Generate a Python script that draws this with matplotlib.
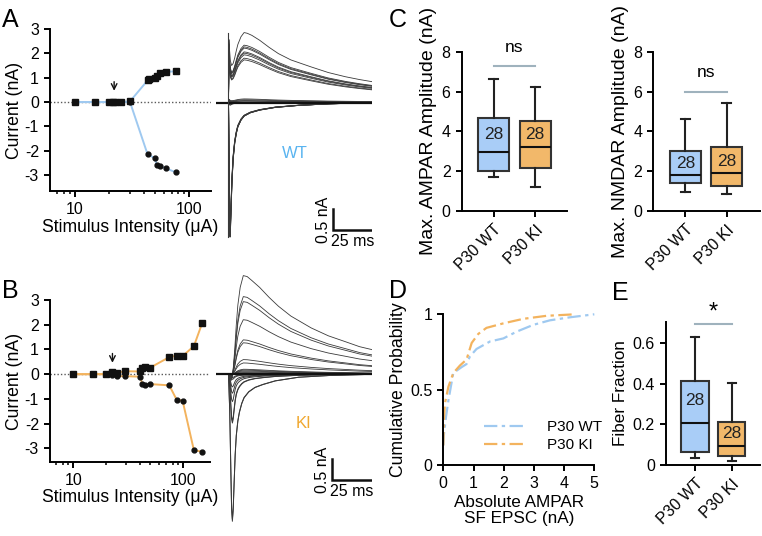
import numpy as np
import matplotlib.pyplot as plt
from matplotlib.ticker import NullFormatter, LogLocator
from matplotlib.lines import Line2D

plt.rcParams['font.family'] = ['Liberation Sans', 'DejaVu Sans']
plt.rcParams['axes.linewidth'] = 1.4
plt.rcParams['xtick.major.width'] = 1.4
plt.rcParams['ytick.major.width'] = 1.4
plt.rcParams['xtick.minor.width'] = 1.1
plt.rcParams['xtick.major.size'] = 4.5
plt.rcParams['ytick.major.size'] = 4.5
plt.rcParams['xtick.minor.size'] = 2.5
plt.rcParams['xtick.labelsize'] = 11.5
plt.rcParams['ytick.labelsize'] = 11.5

W, H = 762, 536

WT_LINE = '#9fc9f0'
WT_FILL = '#a9cdf7'
KI_LINE = '#f3b35e'
KI_FILL = '#f2b86a'
SIG_COL = '#9fb2bd'
TRACE_COL = '#3a3a3a'

# ---- panel A: input/output curve, WT
a_x_up = [10, 15, 20, 21.6, 22.4, 25.3, 30.3, 43.2, 44.4, 50, 51.7, 55.4, 62.5, 76]
a_y_up = [0, 0, 0, 0, 0, 0, 0.03, 0.89, 0.96, 1.0, 1.07, 1.19, 1.23, 1.27]
a_x_dn = [10, 15, 20, 21.6, 22.4, 25.3, 30.3, 43.2, 50, 52, 55.4, 62.5, 76]
a_y_dn = [0, 0, 0, 0, 0, 0, 0, -2.15, -2.3, -2.6, -2.63, -2.72, -2.88]
a_arrow_x = 22

# ---- panel B: input/output curve, KI
b_x = [10, 15, 20, 22.3, 24.8, 29.7, 40.4, 42.4, 44.8, 49.8, 74.6, 87, 98.6, 125, 149]
b_y_up = [0, 0, 0, 0.07, 0.06, 0.12, 0.11, 0.27, 0.28, 0.26, 0.69, 0.75, 0.73, 1.14, 2.08]
b_y_dn = [0, 0, 0, -0.05, -0.08, -0.08, -0.1, -0.38, -0.43, -0.4, -0.45, -1.03, -1.07, -3.08, -3.13]
b_arrow_x = 22.7

# ---- example traces (normalised waveforms, time in ms after stim)
a_out_t = [0, 0.3, 0.7, 1.2, 2, 3, 4, 5, 6, 8, 10, 12, 15, 20, 26, 32, 40, 53, 64, 75, 84, 92]
a_out_s = [0, 0.9, 0.75, 0.6, 0.53, 0.56, 0.64, 0.74, 0.83, 0.94, 1.0, 0.99, 0.96, 0.89, 0.79,
           0.70, 0.61, 0.51, 0.43, 0.37, 0.33, 0.30]
a_in_t = [0, 0.4, 0.8, 1.0, 1.3, 1.7, 2.2, 3, 4, 5, 6, 8, 10, 14, 20, 30, 45, 65, 92]
a_in_s = [0, 0.5, 0.92, 1.0, 0.93, 0.78, 0.6, 0.42, 0.3, 0.23, 0.18, 0.13, 0.1, 0.075, 0.055,
          0.035, 0.02, 0.008, 0]
b_out_t = [0, 1, 2, 3, 4, 5, 6, 7.5, 9.5, 12, 15, 20, 26, 32, 40, 53, 64, 75, 84, 92]
b_out_s = [0, -0.05, -0.06, 0.05, 0.25, 0.5, 0.7, 0.88, 1.0, 0.99, 0.95, 0.88, 0.78, 0.69,
           0.59, 0.47, 0.39, 0.33, 0.28, 0.25]
b_in_t = [0, 0.8, 1.5, 2.0, 2.5, 3.0, 3.6, 4.3, 5, 6, 7, 8.5, 10, 13, 17, 22, 30, 45, 65, 92]
b_in_s = [0, 0.25, 0.65, 0.92, 1.0, 0.93, 0.75, 0.55, 0.42, 0.32, 0.26, 0.2, 0.16, 0.12, 0.09,
          0.07, 0.045, 0.02, 0.008, 0]

a_out_amp = [1.67, 1.37, 1.33, 1.30, 1.21, 1.18, 1.14, 1.06, 1.02, 0.09, 0.07, 0.05, 0.04, 0.02]
a_in_amp = [3.2, 3.18, 3.15, 3.1, 3.05, 3.0, 0.04, 0.06]
b_out_amp = [2.35, 1.85, 1.73, 1.3, 0.82, 0.75, 0.35, 0.27, 0.12, 0.1, 0.08, 0.06, 0.04]
b_in_amp = [3.5, 3.45, 1.16, 1.1, 0.65, 0.45, 0.3, 0.08, 0.12]

# ---- panel C boxes: whislo, q1, med, q3, whishi
groups = ['P30 WT', 'P30 KI']
ampa_box = [[1.72, 2.03, 2.98, 4.69, 6.62], [1.22, 2.15, 3.2, 4.54, 6.22]]
nmda_box = [[0.94, 1.39, 1.83, 3.02, 4.64], [0.84, 1.27, 1.89, 3.23, 5.41]]
fiber_box = [[0.033, 0.064, 0.209, 0.416, 0.633], [0.021, 0.044, 0.095, 0.214, 0.404]]
n_cells = [28, 28]

# ---- panel D cumulative distributions
cdf_wt_x = [0, 0.02, 0.09, 0.17, 0.33, 0.61, 0.77, 0.88, 1.1, 1.55, 1.99, 2.43, 2.98, 3.53, 4.19, 5.0]
cdf_wt_y = [0.13, 0.2, 0.32, 0.43, 0.61, 0.65, 0.67, 0.72, 0.77, 0.82, 0.84, 0.885, 0.93, 0.96, 0.98, 1.0]
cdf_ki_x = [0, 0.02, 0.055, 0.17, 0.33, 0.55, 0.77, 0.94, 1.16, 1.43, 1.99, 2.65, 3.42, 4.36]
cdf_ki_y = [0.13, 0.3, 0.41, 0.52, 0.61, 0.66, 0.7, 0.81, 0.87, 0.91, 0.94, 0.97, 0.99, 1.0]

fig = plt.figure(figsize=(W / 100, H / 100), dpi=100)


def px_axes(l, t, r, b):
    return fig.add_axes([l / W, 1 - b / H, (r - l) / W, (b - t) / H])


def io_panel(ax, x_up, y_up, x_dn, y_dn, col, xlim, ylim, arrow_x):
    ax.axhline(0, color='0.35', ls=(0, (1, 1.5)), lw=1.0, zorder=1)
    ax.plot(x_up, y_up, color=col, lw=1.4, zorder=2)
    ax.plot(x_dn, y_dn, color=col, lw=1.4, zorder=2)
    ax.plot(x_up, y_up, 's', color='#111', ms=3.8, zorder=3, clip_on=False)
    ax.plot(x_dn, y_dn, 'o', color='#111', ms=3.5, zorder=3, clip_on=False)
    ax.annotate('', xy=(arrow_x, 0.35), xytext=(arrow_x, 0.95),
                arrowprops=dict(arrowstyle='->', color='#111', lw=1.0))
    ax.set_xscale('log')
    ax.set_xlim(*xlim)
    ax.set_ylim(*ylim)
    ax.set_xticks([10, 100])
    ax.set_xticklabels(['10', '100'])
    ax.xaxis.set_minor_locator(LogLocator(base=10, subs=np.arange(2, 10)))
    ax.xaxis.set_minor_formatter(NullFormatter())
    ax.set_yticks([-3, -2, -1, 0, 1, 2, 3])
    ax.set_yticklabels(['-3', '-2', '-1', '0', '1', '2', '3'])
    for s in ['top', 'right']:
        ax.spines[s].set_visible(False)
    ax.set_ylabel('Current (nA)', fontsize=12.7, labelpad=1)
    ax.set_xlabel('Stimulus Intensity (μA)', fontsize=12.7, labelpad=1)


ax_a = px_axes(50, 29, 211, 191)
io_panel(ax_a, a_x_up, a_y_up, a_x_dn, a_y_dn, WT_LINE, (6.04, 155), (-3.65, 3), a_arrow_x)
ax_b = px_axes(50, 300, 210, 462)
io_panel(ax_b, b_x, b_y_up, b_x, b_y_dn, KI_LINE, (6.14, 175), (-3.55, 3), b_arrow_x)


def trace_panel(baseline_px, out_t, out_s, in_t, in_s, out_amp, in_amp, label, lcol,
                bar_x, bar_y, lab_pos, artifact):
    # 1 nA = 42 px, 100 ms = 156 px
    top = baseline_px - 2.4 * 42
    bot = baseline_px + 3.6 * 42
    ax = px_axes(216, top, 372, bot)
    ax.set_xlim(-8, 92)
    ax.set_ylim(-3.6, 2.4)
    ax.axis('off')
    for a in out_amp:
        ax.plot([-8] + out_t, [0] + [a * s for s in out_s], color=TRACE_COL, lw=0.6)
    for a in in_amp:
        ax.plot([-8] + in_t, [0] + [-a * s for s in in_s], color=TRACE_COL, lw=0.7)
    ax.plot([-8, 92], [0, 0], color='#111', lw=1.6)
    if artifact:
        ax.plot([0, 0], [-max(in_amp), max(out_amp)], color=TRACE_COL, lw=0.8)
    ax.plot([bar_x, bar_x, bar_x + 25], [bar_y + 0.5, bar_y, bar_y], color='#111', lw=1.8,
            solid_joinstyle='miter')
    ax.text(bar_x - 6, bar_y + 0.25, '0.5 nA', rotation=90, ha='center', va='center', fontsize=11.5)
    ax.text(bar_x + 13, bar_y - 0.1, '25 ms', ha='center', va='top', fontsize=11.5)
    ax.text(lab_pos[0], lab_pos[1], label, color=lcol, ha='center', va='center', fontsize=12)


trace_panel(102.7, a_out_t, a_out_s, a_in_t, a_in_s, a_out_amp, a_in_amp, 'WT', '#5ab4f0',
            66.8, -3.03, (42.6, -1.22), True)
trace_panel(374.3, b_out_t, b_out_s, b_in_t, b_in_s, b_out_amp, b_in_amp, 'KI', '#f0a830',
            66.2, -2.52, (47.8, -1.18), False)


def box_panel(ax, boxes, ylim, yticks, yticklabels, ylabel, label_size, n_y, sig_y, sig_txt,
              txt_y, width):
    stats = []
    for b in boxes:
        stats.append(dict(whislo=b[0], q1=b[1], med=b[2], q3=b[3], whishi=b[4]))
    bp = ax.bxp(stats, positions=[1, 2], widths=width, patch_artist=True, showfliers=False,
                capwidths=0.22,
                boxprops=dict(linewidth=1.5, edgecolor='#333'),
                whiskerprops=dict(linewidth=1.5, color='#222'),
                capprops=dict(linewidth=1.5, color='#222'),
                medianprops=dict(linewidth=1.5, color='#111'))
    for patch, c in zip(bp['boxes'], [WT_FILL, KI_FILL]):
        patch.set_facecolor(c)
    for i, n in enumerate(n_cells):
        ax.text(i + 1, n_y[i], str(n), ha='center', va='center', fontsize=12.5, color='#222')
    ax.plot([1, 2], [sig_y, sig_y], color=SIG_COL, lw=1.5, clip_on=False)
    ax.text(1.5, txt_y, sig_txt, ha='center', va='center',
            fontsize=17 if sig_txt == '*' else 12.5, clip_on=False)
    ax.set_ylim(*ylim)
    ax.set_yticks(yticks)
    ax.set_yticklabels(yticklabels)
    ax.set_xticks([1, 2])
    ax.set_xticklabels(groups, rotation=45, ha='right', rotation_mode='anchor')
    for s in ['top', 'right']:
        ax.spines[s].set_visible(False)
    ax.set_ylabel(ylabel, fontsize=label_size, labelpad=3)


ax_c1 = px_axes(461.7, 51.7, 566.7, 211)
box_panel(ax_c1, ampa_box, (0, 8), [0, 2, 4, 6, 8], ['0', '2', '4', '6', '8'],
          'Max. AMPAR Amplitude (nA)', 14, [3.82, 3.82], 7.29, 'ns', 8.2, 0.75)
ax_c1.set_xlim(0.234, 2.76)

ax_c2 = px_axes(653.3, 51.7, 760, 211)
box_panel(ax_c2, nmda_box, (0, 8), [0, 2, 4, 6, 8], ['0', '2', '4', '6', '8'],
          'Max. NMDAR Amplitude (nA)', 14, [2.4, 2.5], 6.0, 'ns', 6.95, 0.75)
ax_c2.set_xlim(0.224, 2.8)

ax_e = px_axes(666, 321.7, 760, 465)
box_panel(ax_e, fiber_box, (0, 0.707), [0, 0.2, 0.4, 0.6], ['0', '0.2', '0.4', '0.6'],
          'Fiber Fraction', 12.3, [0.32, 0.153], 0.694, '*', 0.75, 0.75)
ax_e.set_xlim(0.21, 2.77)

# ---- panel D
ax_d = px_axes(443.3, 314.3, 594.3, 465)
dash = (0, (6, 2, 1.5, 2))
ax_d.plot(cdf_wt_x, cdf_wt_y, color=WT_LINE, lw=1.6, ls=dash, clip_on=False)
ax_d.plot(cdf_ki_x, cdf_ki_y, color=KI_LINE, lw=1.6, ls=dash, clip_on=False)
ax_d.set_xlim(0, 5)
ax_d.set_ylim(0, 1)
ax_d.set_xticks([0, 1, 2, 3, 4, 5])
ax_d.set_yticks([0, 0.5, 1])
ax_d.set_yticklabels(['0', '0.5', '1'])
for s in ['top', 'right']:
    ax_d.spines[s].set_visible(False)
ax_d.set_ylabel('Cumulative Probability', fontsize=12.7, labelpad=2)
ax_d.set_xlabel('Absolute AMPAR\nSF EPSC (nA)', fontsize=12.3, labelpad=3, linespacing=1.1)
handles = [Line2D([], [], color=WT_LINE, lw=1.6, ls=dash),
           Line2D([], [], color=KI_LINE, lw=1.6, ls=dash)]
ax_d.legend(handles, groups, frameon=False, fontsize=11, loc='center left',
            bbox_to_anchor=(484 / W, 1 - 436 / H), bbox_transform=fig.transFigure,
            handlelength=2.8, handletextpad=1.3, labelspacing=0.25, borderaxespad=0,
            borderpad=0)

# ---- panel letters
for letter, (x, y) in {'A': (2, 27), 'B': (2, 298), 'C': (389, 27), 'D': (389, 298),
                       'E': (612, 300)}.items():
    fig.text(x / W, 1 - y / H, letter, fontsize=18, ha='left', va='baseline')

fig.savefig('out.png', dpi=100)
